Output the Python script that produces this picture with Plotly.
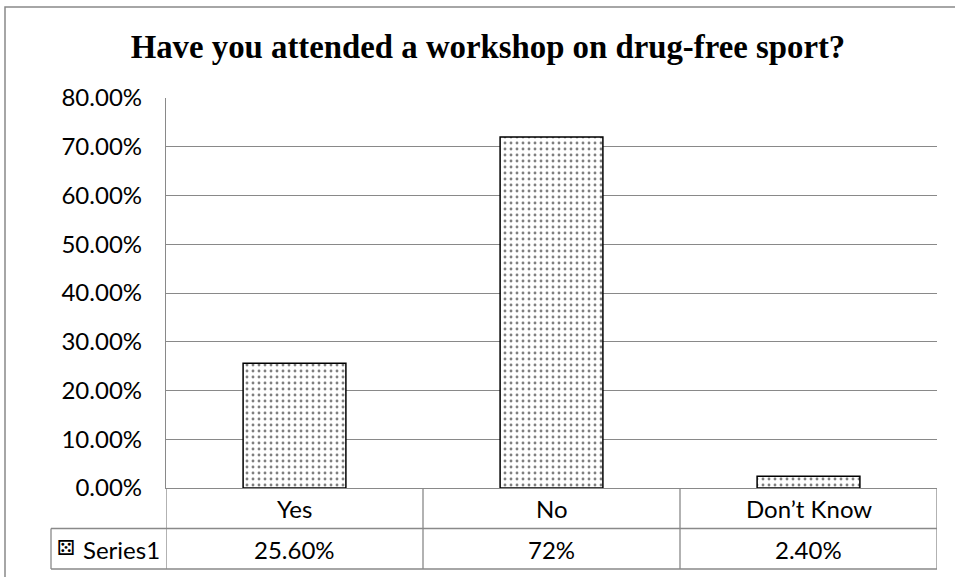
import plotly.graph_objects as go

categories = ["Yes", "No", "Don’t Know"]
values = [0.256, 0.72, 0.024]
table_labels = ["25.60%", "72%", "2.40%"]
series_name = "Series1"
title_text = "Have you attended a workshop on drug-free sport?"

W, H = 955, 577
L, R, T, B = 166, 18, 98, 89
pw = W - L - R
ph = H - T - B
GRAY = "#898989"
FONT = "Lato"
FS = 24


def py(pix):
    return (H - B - pix) / ph


def px(pix):
    return (pix - L) / pw


fig = go.Figure()
fig.add_trace(go.Bar(
    x=list(range(len(categories))), y=values, width=0.4, name=series_name,
    marker=dict(color="white", line=dict(color="black", width=1.5),
                pattern=dict(shape=".", fgcolor="black", bgcolor="white",
                             size=6, solidity=0.18)),
    showlegend=False,
))

shapes = []
# outer chart border
shapes.append(dict(type="rect", xref="paper", yref="paper", x0=px(5), x1=px(1010),
                   y0=py(620), y1=py(7), line=dict(color=GRAY, width=1.5)))
# table horizontal lines
for yy in (528.5, 569):
    shapes.append(dict(type="line", xref="paper", yref="paper", x0=px(51), x1=1,
                       y0=py(yy), y1=py(yy), line=dict(color=GRAY, width=1.3)))
# table vertical lines at category boundaries
for i in range(len(categories) + 1):
    shapes.append(dict(type="line", xref="x", yref="paper", x0=i - 0.5, x1=i - 0.5,
                       y0=py(488), y1=py(569), line=dict(color=GRAY, width=1.3)))
shapes.append(dict(type="line", xref="paper", yref="paper", x0=px(51), x1=px(51),
                   y0=py(528.5), y1=py(569), line=dict(color=GRAY, width=1.3)))

annotations = []
for i, c in enumerate(categories):
    annotations.append(dict(x=i, y=py(508.5), xref="x", yref="paper", text=c,
                            xanchor="center", yanchor="middle", showarrow=False,
                            font=dict(family=FONT, size=FS, color="black")))
for i, t in enumerate(table_labels):
    annotations.append(dict(x=i, y=py(549), xref="x", yref="paper", text=t,
                            xanchor="center", yanchor="middle", showarrow=False,
                            font=dict(family=FONT, size=FS, color="black")))
annotations.append(dict(x=px(81), y=py(549), xref="paper", yref="paper", text=series_name,
                        xanchor="left", yanchor="middle", showarrow=False,
                        font=dict(family=FONT, size=FS, color="black")))
annotations.append(dict(x=px(66), y=py(548), xref="paper", yref="paper", text="⚄",
                        xanchor="center", yanchor="middle", showarrow=False,
                        font=dict(family="DejaVu Sans", size=21, color="black")))

fig.update_layout(
    width=W, height=H,
    margin=dict(l=L, r=R, t=T, b=B, autoexpand=False),
    paper_bgcolor="white", plot_bgcolor="white",
    title=dict(text="<b>" + title_text + "</b>", x=0.511, xanchor="center",
               y=1 - 47 / H, yanchor="middle",
               font=dict(family="Liberation Serif", size=32.8, color="black")),
    xaxis=dict(range=[-0.5, len(categories) - 0.5], showticklabels=False, ticks="",
               showgrid=False, zeroline=False, showline=True, linecolor=GRAY, linewidth=1.3),
    yaxis=dict(range=[0, 0.8], dtick=0.1, tickformat=".2%", ticks="",
               ticklabelstandoff=18,
               showgrid=True, gridcolor=GRAY, gridwidth=1.3, zeroline=False,
               showline=True, linecolor=GRAY, linewidth=1.3,
               tickfont=dict(family=FONT, size=FS, color="black")),
    shapes=shapes, annotations=annotations,
    bargap=0.6,
)

fig.write_html("out.html", config={"displayModeBar": False},
               post_script="document.body.style.margin='0';document.body.style.padding='0';")
